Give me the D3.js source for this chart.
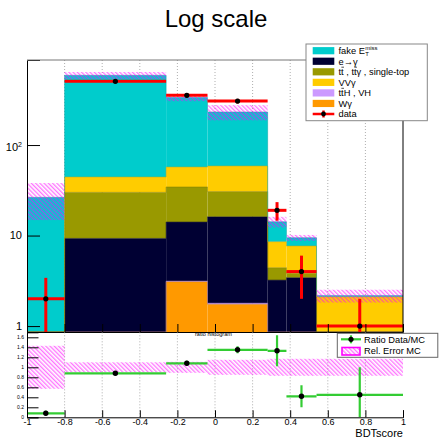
<!DOCTYPE html>
<html>
<head>
<meta charset="utf-8">
<script src="https://cdn.jsdelivr.net/npm/d3@7"></script>
<style>
  html, body { margin: 0; padding: 0; background: #fff; }
  svg { display: block; font-family: "Liberation Sans", Arial, Helvetica, sans-serif; }
</style>
</head>
<body>
<svg id="chart" width="439" height="439"></svg>
<script>
// ---- data -------------------------------------------------------------
const binEdges = [-1, -0.8, -0.26, -0.04, 0.28, 0.38, 0.54, 1.0];

// stacked background samples (bottom of stack first), events per bin
const wGamma   = [0.02, 0.4, 3.09, 1.74, 0.3, 0.2, 0.05];
const ttHVH    = [0.01, 0.05, 0.05, 0.05, 0.02, 0.02, 0.02];
const eToGamma = [0.3, 8.85, 10.96, 14.31, 2.9, 3.2, 0.5];
const ttbar    = [0.1, 20.7, 20.3, 14.5, 1.19, 0.4, 0.15];
const vvGamma  = [0.2, 14.3, 22.7, 28.0, 4.13, 3.84, 1.38];
const fakeMet  = [25.8, 544.7, 277.9, 173.0, 5.66, 1.8, 0.07];

// MC statistical uncertainty on the stack total
const mcStatErr = [11.6, 52, 30, 44, 1.9, 0.7, 0.35];

// observed data
const dataCounts = [2, 506, 354, 306, 19, 4, 1];
const dataErr    = [1.41, 22.5, 18.8, 17.5, 4.4, 2.0, 1.0];

// ratio panel
const ratioValues = [0.08, 0.88, 1.08, 1.35, 1.33, 0.42, 0.45];
const ratioErr    = [0.05, 0.04, 0.05, 0.07, 0.31, 0.22, 0.55];
const relErrMC    = [0.43, 0.10, 0.11, 0.15, 0.17, 0.17, 0.17];

// axis ticks
const yMajorTicks   = [1, 10, 100];
const xTickValues   = [-1, -0.8, -0.6, -0.4, -0.2, 0, 0.2, 0.4, 0.6, 0.8, 1];
const xTickLabels   = ["-1", "-0.8", "-0.6", "-0.4", "-0.2", "0", "0.2", "0.4", "0.6", "0.8", "1"];
const rTickValues   = [0, 0.2, 0.4, 0.6, 0.8, 1, 1.2, 1.4, 1.6];
const rTickLabels   = ["0", "0.2", "0.4", "0.6", "0.8", "1", "1.2", "1.4", "1.6"];

// ---- styles -----------------------------------------------------------
const stackSeries = [
  { key: "wg",   values: wGamma,   color: "#ff9900" },
  { key: "tth",  values: ttHVH,    color: "#cc99ff" },
  { key: "eg",   values: eToGamma, color: "#000033" },
  { key: "tt",   values: ttbar,    color: "#999900" },
  { key: "vvg",  values: vvGamma,  color: "#ffcc00" },
  { key: "fake", values: fakeMet,  color: "#00cccc" }
];
const colorOf = Object.fromEntries(stackSeries.map(s => [s.key, s.color]));
const DATA_RED = "#ff0000";
const RATIO_GREEN = "#33cc33";

// ---- layout -----------------------------------------------------------
const X0 = 27, X1 = 403;
const T0 = 60, T1 = 332;       // upper pad plot area
const R0 = 332.3, R1 = 417.3;  // ratio pad plot area

const svg = d3.select("#chart");
const x  = d3.scaleLinear().domain([-1, 1]).range([X0, X1]);
const y  = d3.scaleLog().domain([0.86, 870]).range([T1, T0]).clamp(true);
const yr = d3.scaleLinear().domain([0, 1.7]).range([R1, R0]).clamp(true);
const yMin = y.domain()[0];

const defs = svg.append("defs");
defs.append("clipPath").attr("id", "clipTop")
  .append("rect").attr("x", X0).attr("y", T0).attr("width", X1 - X0).attr("height", T1 - T0);
defs.append("clipPath").attr("id", "clipRatio")
  .append("rect").attr("x", X0).attr("y", R0).attr("width", X1 - X0).attr("height", R1 - R0);
const pat = defs.append("pattern").attr("id", "hatch")
  .attr("patternUnits", "userSpaceOnUse").attr("width", 3).attr("height", 3)
  .attr("patternTransform", "rotate(-45)");
pat.append("line").attr("x1", 0.75).attr("y1", 0).attr("x2", 0.75).attr("y2", 3)
  .attr("stroke", "#ff00ff").attr("stroke-width", 1).attr("stroke-opacity", 0.72);

// ---- title ------------------------------------------------------------
svg.append("text").attr("x", 216).attr("y", 26.5).attr("text-anchor", "middle")
  .attr("font-size", 24).attr("fill", "#000").text("Log scale");

// ---- upper pad --------------------------------------------------------
const gridX = xTickValues.slice(1, -1);
const upper = svg.append("g");
upper.append("g").selectAll("line").data(gridX).join("line")
  .attr("x1", d => x(d)).attr("x2", d => x(d)).attr("y1", T0).attr("y2", T1)
  .attr("stroke", "#999").attr("stroke-width", 0.8).attr("stroke-dasharray", "1,2");

const bins = d3.range(binEdges.length - 1);
const cumulative = [bins.map(() => 0)];
stackSeries.forEach((s, i) => cumulative.push(bins.map(b => cumulative[i][b] + s.values[b])));
const totals = cumulative[cumulative.length - 1];

const stackG = upper.append("g").attr("clip-path", "url(#clipTop)");
stackSeries.forEach((s, i) => {
  stackG.append("g").selectAll("rect").data(bins).join("rect")
    .attr("x", b => x(binEdges[b]))
    .attr("width", b => x(binEdges[b + 1]) - x(binEdges[b]))
    .attr("y", b => y(Math.max(cumulative[i + 1][b], yMin)))
    .attr("height", b => y(Math.max(cumulative[i][b], yMin)) - y(Math.max(cumulative[i + 1][b], yMin)))
    .attr("fill", s.color);
});
// outline along the top of each stacked component
stackSeries.forEach((s, i) => {
  const pts = [];
  bins.forEach(b => {
    const v = Math.max(cumulative[i + 1][b], yMin);
    pts.push([x(binEdges[b]), y(v)], [x(binEdges[b + 1]), y(v)]);
  });
  stackG.append("path").attr("d", d3.line()(pts)).attr("fill", "none")
    .attr("stroke", d3.color(s.color).darker(0.6)).attr("stroke-width", 0.7).attr("stroke-opacity", 0.7);
});

// MC uncertainty band
stackG.append("g").selectAll("rect").data(bins).join("rect")
  .attr("x", b => x(binEdges[b]))
  .attr("width", b => x(binEdges[b + 1]) - x(binEdges[b]))
  .attr("y", b => y(totals[b] + mcStatErr[b]))
  .attr("height", b => y(Math.max(totals[b] - mcStatErr[b], yMin)) - y(totals[b] + mcStatErr[b]))
  .attr("fill", "url(#hatch)");

// data points
const dataG = upper.append("g").attr("clip-path", "url(#clipTop)");
dataG.selectAll("line.h").data(bins).join("line").attr("class", "h")
  .attr("x1", b => x(binEdges[b])).attr("x2", b => x(binEdges[b + 1]))
  .attr("y1", b => y(dataCounts[b])).attr("y2", b => y(dataCounts[b]))
  .attr("stroke", DATA_RED).attr("stroke-width", 3);
dataG.selectAll("line.v").data(bins).join("line").attr("class", "v")
  .attr("x1", b => x((binEdges[b] + binEdges[b + 1]) / 2)).attr("x2", b => x((binEdges[b] + binEdges[b + 1]) / 2))
  .attr("y1", b => y(dataCounts[b] + dataErr[b]))
  .attr("y2", b => y(Math.max(dataCounts[b] - dataErr[b], yMin)))
  .attr("stroke", DATA_RED).attr("stroke-width", 3);
dataG.selectAll("circle").data(bins).join("circle")
  .attr("cx", b => x((binEdges[b] + binEdges[b + 1]) / 2)).attr("cy", b => y(dataCounts[b]))
  .attr("r", 2.6).attr("fill", "#000");

// upper pad axes
const yMinorTicks = [];
[0.1, 1, 10, 100].forEach(dec => d3.range(2, 10).forEach(k => {
  const v = +(k * dec).toPrecision(3);
  if (v > yMin && v < 870 && !yMajorTicks.includes(v)) yMinorTicks.push(v);
}));
const axL = upper.append("g").attr("transform", `translate(${X0},0)`);
axL.call(d3.axisLeft(y).tickValues(yMinorTicks).tickSize(-7).tickFormat(""));
axL.call(d3.axisLeft(y).tickValues(yMajorTicks).tickSize(-13).tickPadding(5).tickFormat(""));
axL.selectAll(".domain").attr("stroke", "#000");
axL.selectAll(".tick line").attr("stroke", "#000");
yMajorTicks.forEach(v => {
  const t = axL.append("text").attr("x", -5).attr("y", y(v)).attr("dy", "0.35em")
    .attr("text-anchor", "end").attr("font-size", 11).attr("fill", "#000");
  if (v === 100) {
    t.append("tspan").text("10");
    t.append("tspan").attr("font-size", 7).attr("dy", "-0.55em").text("2");
    t.attr("dy", "0.55em");
  } else {
    t.text(String(v));
  }
});

const xMinor = d3.range(-1, 1.0001, 0.05).map(v => +v.toFixed(2));
const axTopX = upper.append("g").attr("transform", `translate(0,${T1})`);
axTopX.call(d3.axisBottom(x).tickValues(xMinor).tickSize(-4).tickFormat(""));
axTopX.call(d3.axisBottom(x).tickValues(xTickValues).tickSize(-8).tickFormat(""));
axTopX.selectAll(".domain").attr("stroke", "#000");
axTopX.selectAll(".tick line").attr("stroke", "#000");
upper.append("line").attr("x1", X0).attr("x2", X1).attr("y1", T0).attr("y2", T0).attr("stroke", "#777");
upper.append("line").attr("x1", X1).attr("x2", X1).attr("y1", T0).attr("y2", T1).attr("stroke", "#000");

// ---- main legend ------------------------------------------------------
// "bars" lists character positions that carry an anti-particle overbar
const legendRows = [
  { kind: "box", key: "fake" },
  { kind: "box", key: "eg", label: "e\u2192\u03b3" },
  { kind: "box", key: "tt", label: "tt , tt\u03b3 , single-top", bars: [1, 6] },
  { kind: "box", key: "vvg", label: "VV\u03b3" },
  { kind: "box", key: "tth", label: "ttH , VH", bars: [1] },
  { kind: "box", key: "wg", label: "W\u03b3" },
  { kind: "data", label: "data" }
];
const lg = svg.append("g");
lg.append("rect").attr("x", 306).attr("y", 44).attr("width", 121.3).attr("height", 76.7)
  .attr("fill", "#fff").attr("stroke", "#888").attr("stroke-width", 1);
legendRows.forEach((r, i) => {
  const cy = 50.7 + i * 10.55;
  if (r.kind === "box") {
    lg.append("rect").attr("x", 312.7).attr("y", cy - 3.6).attr("width", 21.6).attr("height", 7.2)
      .attr("fill", colorOf[r.key]);
  } else {
    lg.append("line").attr("x1", 312.7).attr("x2", 334.3).attr("y1", cy).attr("y2", cy)
      .attr("stroke", DATA_RED).attr("stroke-width", 2.5);
    lg.append("line").attr("x1", 323.5).attr("x2", 323.5).attr("y1", cy - 3.5).attr("y2", cy + 3.5)
      .attr("stroke", DATA_RED).attr("stroke-width", 2.5);
    lg.append("circle").attr("cx", 323.5).attr("cy", cy).attr("r", 2.4).attr("fill", "#000");
  }
  const baseY = cy + 3.3;
  const t = lg.append("text").attr("x", 338.5).attr("y", baseY).attr("font-size", 9.3).attr("fill", "#000");
  if (r.key === "fake") {
    t.text("fake E");
    const w = t.node().getComputedTextLength();
    lg.append("text").attr("x", 338.5 + w + 0.3).attr("y", cy - 1.2).attr("font-size", 6).text("miss");
    lg.append("text").attr("x", 338.5 + w + 0.3).attr("y", cy + 5.6).attr("font-size", 6).text("T");
  } else {
    t.text(r.label);
    (r.bars || []).forEach(ci => {
      const n = t.node();
      const sx = n.getStartPositionOfChar(ci).x, ex = n.getEndPositionOfChar(ci).x;
      lg.append("line").attr("x1", sx + 0.3).attr("x2", ex + 0.3).attr("y1", baseY - 7.9).attr("y2", baseY - 7.9)
        .attr("stroke", "#000").attr("stroke-width", 0.7);
    });
  }
});

// ---- ratio pad --------------------------------------------------------
const rat = svg.append("g");
rat.append("g").selectAll("line").data(gridX).join("line")
  .attr("x1", d => x(d)).attr("x2", d => x(d)).attr("y1", R0).attr("y2", R1)
  .attr("stroke", "#999").attr("stroke-width", 0.8).attr("stroke-dasharray", "1,2");

const ratG = rat.append("g").attr("clip-path", "url(#clipRatio)");
ratG.append("g").selectAll("rect").data(bins).join("rect")
  .attr("x", b => x(binEdges[b]))
  .attr("width", b => x(binEdges[b + 1]) - x(binEdges[b]))
  .attr("y", b => yr(1 + relErrMC[b]))
  .attr("height", b => yr(1 - relErrMC[b]) - yr(1 + relErrMC[b]))
  .attr("fill", "url(#hatch)");
ratG.selectAll("line.h").data(bins).join("line").attr("class", "h")
  .attr("x1", b => x(binEdges[b])).attr("x2", b => x(binEdges[b + 1]))
  .attr("y1", b => yr(ratioValues[b])).attr("y2", b => yr(ratioValues[b]))
  .attr("stroke", RATIO_GREEN).attr("stroke-width", 2.2);
ratG.selectAll("line.v").data(bins).join("line").attr("class", "v")
  .attr("x1", b => x((binEdges[b] + binEdges[b + 1]) / 2)).attr("x2", b => x((binEdges[b] + binEdges[b + 1]) / 2))
  .attr("y1", b => yr(ratioValues[b] + ratioErr[b])).attr("y2", b => yr(ratioValues[b] - ratioErr[b]))
  .attr("stroke", RATIO_GREEN).attr("stroke-width", 2.2);
ratG.selectAll("circle").data(bins).join("circle")
  .attr("cx", b => x((binEdges[b] + binEdges[b + 1]) / 2)).attr("cy", b => yr(ratioValues[b]))
  .attr("r", 2.7).attr("fill", "#000");

rat.append("text").attr("x", 195).attr("y", 336.3).attr("font-size", 5.6).attr("fill", "#000")
  .text("ratio histogram");

const rMinor = d3.range(0, 1.7001, 0.05).map(v => +v.toFixed(2));
const axRL = rat.append("g").attr("transform", `translate(${X0},0)`);
axRL.call(d3.axisLeft(yr).tickValues(rMinor).tickSize(-5).tickFormat(""));
axRL.call(d3.axisLeft(yr).tickValues(rTickValues).tickSize(-11.5).tickPadding(3)
  .tickFormat((d, i) => rTickLabels[i]));
axRL.selectAll(".domain").attr("stroke", "#000");
axRL.selectAll(".tick line").attr("stroke", "#000");
axRL.selectAll(".tick text").attr("font-size", 5).attr("font-family", null).attr("fill", "#000");

const axRB = rat.append("g").attr("transform", `translate(0,${R1})`);
axRB.call(d3.axisBottom(x).tickValues(xMinor).tickSize(-3).tickFormat(""));
axRB.call(d3.axisBottom(x).tickValues(xTickValues).tickSize(-7).tickPadding(1.5)
  .tickFormat((d, i) => xTickLabels[i]));
axRB.selectAll(".domain").attr("stroke", "#000");
axRB.selectAll(".tick line").attr("stroke", "#000");
axRB.selectAll(".tick text").attr("font-size", 9).attr("font-family", null).attr("fill", "#000");

svg.append("text").attr("x", X1).attr("y", 437).attr("text-anchor", "end")
  .attr("font-size", 11).attr("fill", "#000").text("BDTscore");

// ratio legend
const rl = svg.append("g");
rl.append("rect").attr("x", 337.3).attr("y", 333.3).attr("width", 100.5).attr("height", 24)
  .attr("fill", "#fff").attr("stroke", "#666").attr("stroke-width", 1);
rl.append("line").attr("x1", 341).attr("x2", 361).attr("y1", 339.3).attr("y2", 339.3)
  .attr("stroke", RATIO_GREEN).attr("stroke-width", 2.2);
rl.append("line").attr("x1", 351).attr("x2", 351).attr("y1", 335.3).attr("y2", 343.3)
  .attr("stroke", RATIO_GREEN).attr("stroke-width", 2.2);
rl.append("circle").attr("cx", 351).attr("cy", 339.3).attr("r", 2.6).attr("fill", "#000");
rl.append("rect").attr("x", 342).attr("y", 347.5).attr("width", 18).attr("height", 7.5)
  .attr("fill", "url(#hatch)").attr("stroke", "#ff00ff").attr("stroke-width", 1.6);
rl.append("text").attr("x", 364).attr("y", 342.6).attr("font-size", 9.3).attr("fill", "#000").text("Ratio Data/MC");
rl.append("text").attr("x", 364).attr("y", 354.4).attr("font-size", 9.3).attr("fill", "#000").text("Rel. Error MC");
</script>
</body>
</html>
